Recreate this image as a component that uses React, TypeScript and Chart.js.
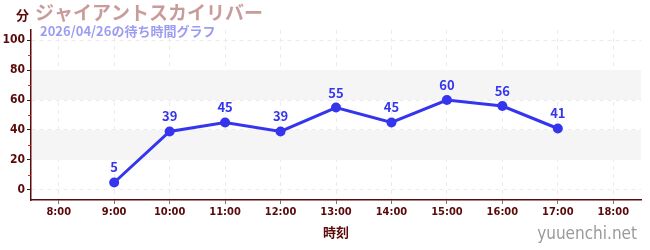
import React, { useEffect, useRef } from "react";
import { Chart, registerables } from "chart.js";

Chart.register(...registerables);

const categories = ["8:00", "9:00", "10:00", "11:00", "12:00", "13:00", "14:00", "15:00", "16:00", "17:00", "18:00"];
const waitTimes: (number | null)[] = [null, 5, 39, 45, 39, 55, 45, 60, 56, 41, null];
const yTicks = [0, 20, 40, 60, 80, 100];
const yMinorTicks = [10, 30, 50, 70, 90];
const bands: [number, number][] = [[20, 40], [60, 80]];
const titleText = "ジャイアントスカイリバー";
const subtitleText = "2026/04/26の待ち時間グラフ";
const yUnit = "分";
const xTitle = "時刻";
const watermark = "yuuenchi.net";

const BLUE = "#3535ee";
const MAROON = "#5a0a0a";
const NARROW = "'Liberation Sans Narrow', 'DejaVu Sans Condensed', sans-serif";
const JP = "'Noto Sans CJK JP', sans-serif";

const bandPlugin = {
  id: "bands",
  beforeDatasetsDraw(chart: any) {
    const { ctx, chartArea, scales } = chart;
    const y = scales.y;
    ctx.save();
    ctx.fillStyle = "#f5f5f5";
    bands.forEach(([a, b]) => {
      const y1 = y.getPixelForValue(b);
      const y2 = y.getPixelForValue(a);
      ctx.fillRect(chartArea.left + 1, y1, chartArea.right - chartArea.left - 1, y2 - y1);
    });
    ctx.restore();
  },
};

const overlayPlugin = {
  id: "overlay",
  afterDraw(chart: any) {
    const { ctx, scales } = chart;
    const y = scales.y;
    ctx.save();
    ctx.strokeStyle = "#dd2222";
    ctx.lineWidth = 1;
    yMinorTicks.forEach((v) => {
      const py = Math.round(y.getPixelForValue(v)) + 0.5;
      ctx.beginPath();
      ctx.moveTo(y.right - 3, py);
      ctx.lineTo(y.right, py);
      ctx.stroke();
    });
    const meta = chart.getDatasetMeta(0);
    ctx.fillStyle = BLUE;
    ctx.font = `bold 13px ${JP}`;
    ctx.textAlign = "center";
    ctx.textBaseline = "alphabetic";
    meta.data.forEach((pt: any, i: number) => {
      const v = waitTimes[i];
      if (v == null) return;
      ctx.fillText(String(v), pt.x, pt.y - 10);
    });
    ctx.textAlign = "left";
    ctx.textBaseline = "middle";
    ctx.fillStyle = MAROON;
    ctx.font = `bold 13px ${JP}`;
    ctx.fillText(yUnit, 16, 15);
    ctx.fillStyle = "#c99c9c";
    ctx.font = `bold 19px ${JP}`;
    ctx.fillText(titleText, 35, 13);
    ctx.fillStyle = "#9c9cf2";
    ctx.font = `bold 13px ${JP}`;
    ctx.fillText(subtitleText, 40, 31);
    ctx.fillStyle = "#9a9a9a";
    ctx.font = `17px ${NARROW}`;
    ctx.textAlign = "right";
    ctx.fillText(watermark, 637, 235);
    ctx.restore();
  },
};

export default function App() {
  const ref = useRef<HTMLCanvasElement>(null);
  useEffect(() => {
    document.body.style.margin = "0";
    const chart = new Chart(ref.current!, {
      type: "line",
      data: {
        labels: categories,
        datasets: [
          {
            data: waitTimes,
            borderColor: BLUE,
            backgroundColor: BLUE,
            borderWidth: 3,
            pointRadius: 5,
            pointBackgroundColor: BLUE,
            pointBorderWidth: 0,
            spanGaps: false,
          },
        ],
      },
      options: {
        animation: false,
        responsive: false,
        layout: { padding: { left: 0, top: 30, right: 9, bottom: 0 } },
        plugins: { legend: { display: false }, tooltip: { enabled: false }, title: { display: false } },
        scales: {
          x: {
            offset: true,
            border: { color: MAROON, width: 1.5, dash: [4, 4] },
            grid: { color: "#ebebeb", tickColor: "#777", tickLength: 4, offset: false, drawOnChartArea: true },
            ticks: { color: MAROON, font: { family: NARROW, size: 11, weight: "bold" }, padding: 2, maxRotation: 0, autoSkip: false },
            title: { display: true, text: xTitle, color: MAROON, font: { family: JP, size: 13, weight: "bold" }, padding: { top: 4, bottom: 10 } },
            afterFit: (s: any) => { s.height = 50; },
          },
          y: {
            min: -6.67,
            max: 106.67,
            border: { color: MAROON, width: 1.5, dash: [4, 4] },
            grid: { color: "#ebebeb", tickColor: "#222", tickLength: 4 },
            ticks: { color: MAROON, font: { family: NARROW, size: 12, weight: "bold" }, padding: 2 },
            afterBuildTicks: (s: any) => { s.ticks = yTicks.map((v) => ({ value: v })); },
            afterFit: (s: any) => { s.width = 31; },
          },
        },
      },
      plugins: [bandPlugin, overlayPlugin],
    });
    return () => chart.destroy();
  }, []);
  return (
    <div style={{ position: "absolute", left: 0, top: 0, width: 650, height: 250 }}>
      <canvas ref={ref} width={650} height={250} />
    </div>
  );
}
